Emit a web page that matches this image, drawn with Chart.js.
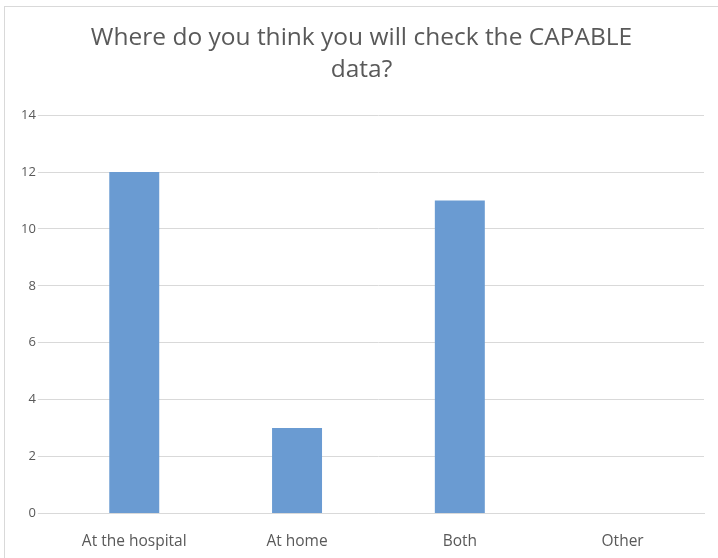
<!DOCTYPE html>
<html lang="en">
<head>
  <meta charset="UTF-8" />
  <title>CAPABLE data check</title>
  <script src="https://cdn.jsdelivr.net/npm/chart.js"></script>
  <style>
    body {
      margin: 0;
      background: #ffffff;
      overflow: hidden;
    }
    #wrap {
      position: absolute;
      left: 4px;
      top: 6px;
      width: 714px;
      height: 556px;
      border-left: 1px solid #d9d9d9;
      border-top: 1px solid #d9d9d9;
      box-sizing: border-box;
    }
  </style>
</head>
<body>
  <div id="wrap">
    <canvas id="chart"></canvas>
  </div>

  <script>
    const categories = ['At the hospital', 'At home', 'Both', 'Other'];
    const counts = [12, 3, 11, 0];
    const titleLines = ['Where do you think you will check the CAPABLE', 'data?'];

    const textColor = '#595959';
    const gridColor = '#d9d9d9';

    new Chart(document.getElementById('chart'), {
      type: 'bar',
      data: {
        labels: categories,
        datasets: [{
          data: counts,
          backgroundColor: '#6a9bd2',
          barPercentage: 0.307,
          categoryPercentage: 1
        }]
      },
      options: {
        responsive: true,
        maintainAspectRatio: false,
        animation: false,
        layout: { padding: { left: 14, right: 14, top: 15, bottom: 0 } },
        plugins: {
          legend: { display: false },
          tooltip: { enabled: false },
          title: {
            display: true,
            text: titleLines,
            color: textColor,
            font: { family: "'Open Sans', sans-serif", size: 24.5, weight: 'normal', lineHeight: 1.31 },
            padding: { top: 0, bottom: 29 }
          }
        },
        scales: {
          x: {
            grid: { display: false },
            border: { color: gridColor },
            ticks: {
              color: textColor,
              font: { family: "'Open Sans', sans-serif", size: 15.5 },
              padding: 11
            }
          },
          y: {
            min: 0,
            max: 14,
            ticks: {
              stepSize: 2,
              color: textColor,
              font: { family: "'Open Sans', sans-serif", size: 13 },
              padding: 2
            },
            grid: { color: gridColor, tickLength: 15 },
            border: { display: false }
          }
        }
      }
    });
  </script>
</body>
</html>
